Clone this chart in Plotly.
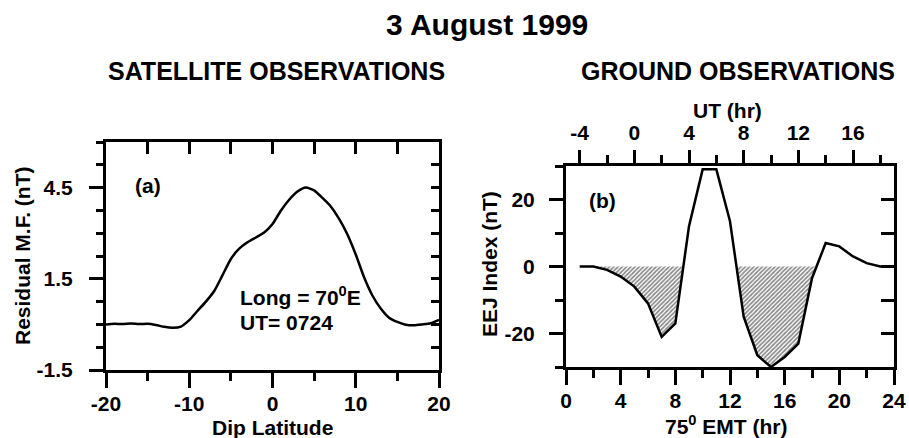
import plotly.graph_objects as go

# ---------------- data ----------------
# Panel (a): satellite residual magnetic field vs dip latitude
dip_lat = [-20, -19, -18, -17, -16, -15, -14, -13, -12, -11, -10, -9, -8, -7, -6,
           -5, -4, -3, -2, -1, 0, 1, 2, 3, 4, 5, 6, 7, 8, 9, 10, 11, 12, 13, 14,
           15, 16, 17, 18, 19, 20]
residual_mf = [0.00, 0.02, 0.01, 0.03, 0.01, 0.02, -0.02, -0.08, -0.11, -0.07, 0.14,
               0.45, 0.75, 1.10, 1.62, 2.15, 2.49, 2.70, 2.86, 3.02, 3.30, 3.74, 4.10,
               4.37, 4.50, 4.41, 4.16, 3.88, 3.47, 2.96, 2.30, 1.55, 0.95, 0.52, 0.22,
               0.08, -0.01, -0.03, 0.00, 0.04, 0.15]

# Panel (b): ground EEJ index vs 75E mean time
emt_hr = [1, 2, 3, 4, 5, 6, 7, 8, 9, 10, 11, 12, 13, 14, 15, 16, 17, 18, 19, 20,
          21, 22, 23, 24]
eej_index = [0, 0, -1, -3, -6, -11, -21, -17, 12, 29, 29, 13.5, -15, -26.5, -30,
             -27, -23, -3.5, 7, 6, 3, 1, 0, 0]

ut_offset_hr = -5  # UT = EMT - 5

# tick values and labels
a_x_ticks = [-20, -10, 0, 10, 20]
a_x_labels = ["-20", "-10", "0", "10", "20"]
a_y_ticks = [-1.5, 1.5, 4.5]
a_y_labels = ["-1.5", "1.5", "4.5"]
b_x_ticks = [0, 4, 8, 12, 16, 20, 24]
b_y_ticks = [-20, 0, 20]
b_y_labels = ["-20", "0", "20"]
b_ut_ticks = [-4, 0, 4, 8, 12, 16]
b_ut_labels = ["-4", "0", "4", "8", "12", "16"]

# ---------------- helpers ----------------
W, H = 909, 438
FONT = "Arial, Liberation Sans, sans-serif"
FS = 21


def px(x):
    return x / W


def py(y):
    return 1 - y / H


# negative part of the EEJ curve for the hatched fill
neg_x, neg_y = [], []
for i in range(len(emt_hr)):
    if i > 0:
        a, b = eej_index[i - 1], eej_index[i]
        if (a < 0 < b) or (b < 0 < a):
            t = a / (a - b)
            neg_x.append(emt_hr[i - 1] + t * (emt_hr[i] - emt_hr[i - 1]))
            neg_y.append(0)
    neg_x.append(emt_hr[i])
    neg_y.append(min(eej_index[i], 0))

fig = go.Figure()

fig.add_trace(go.Scatter(x=dip_lat, y=residual_mf, mode="lines",
                         line=dict(color="black", width=2.5, shape="spline", smoothing=0.6),
                         xaxis="x", yaxis="y", showlegend=False, hoverinfo="skip"))
fig.add_trace(go.Scatter(x=[None], y=[None], mode="lines", xaxis="x2", yaxis="y2",
                         showlegend=False, hoverinfo="skip"))

fig.add_trace(go.Scatter(x=neg_x, y=neg_y, mode="lines", line=dict(width=0),
                         fill="tozeroy",
                         fillpattern=dict(shape="/", fgcolor="#111", bgcolor="white",
                                          size=3, solidity=0.55),
                         xaxis="x3", yaxis="y3", showlegend=False, hoverinfo="skip"))
fig.add_trace(go.Scatter(x=emt_hr, y=eej_index, mode="lines",
                         line=dict(color="black", width=2.5),
                         xaxis="x3", yaxis="y3", showlegend=False, hoverinfo="skip"))
fig.add_trace(go.Scatter(x=[None], y=[None], mode="lines", xaxis="x4", yaxis="y4",
                         showlegend=False, hoverinfo="skip"))

tickfont = dict(family=FONT, size=FS, color="black", weight="bold")
common = dict(showgrid=False, zeroline=False, showline=True, linecolor="black",
              linewidth=3, tickcolor="black", tickwidth=2.5, automargin=False,
              tickfont=tickfont)

ax_dom = [px(106), px(439)]
ay_dom = [py(370), py(142)]
bx_dom = [px(566), px(894)]
by_dom = [py(367), py(166)]

fig.update_layout(
    width=W, height=H, margin=dict(l=0, r=0, t=0, b=0),
    paper_bgcolor="white", plot_bgcolor="white",
    xaxis=dict(domain=ax_dom, anchor="y", range=[-20, 20], tickmode="array",
               tickvals=a_x_ticks, ticktext=a_x_labels, ticks="outside", ticklen=15,
               minor=dict(dtick=5, tick0=-20, ticks="outside", ticklen=8,
                          tickwidth=2.5, tickcolor="black"),
               ticklabelstandoff=-2, **common),
    yaxis=dict(domain=ay_dom, anchor="x", range=[-1.5, 6], tickmode="array",
               tickvals=a_y_ticks, ticktext=a_y_labels, ticks="outside", ticklen=14,
               minor=dict(dtick=0.75, tick0=-1.5, ticks="outside", ticklen=7,
                          tickwidth=2.5, tickcolor="black"),
               ticklabelstandoff=12, **common),
    xaxis2=dict(overlaying="x", side="top", anchor="y", range=[-20, 20],
                tick0=-20, dtick=5, ticks="inside", ticklen=12,
                showticklabels=False, **common),
    yaxis2=dict(overlaying="y", side="right", anchor="x", range=[-1.5, 6],
                tick0=-1.5, dtick=0.75, ticks="inside", ticklen=8,
                showticklabels=False, **common),
    xaxis3=dict(domain=bx_dom, anchor="y3", range=[0, 24], tickmode="array",
                tickvals=b_x_ticks, ticks="outside", ticklen=15,
                minor=dict(dtick=2, tick0=0, ticks="outside", ticklen=8,
                           tickwidth=2.5, tickcolor="black"),
                ticklabelstandoff=-2, **common),
    yaxis3=dict(domain=by_dom, anchor="x3", range=[-30, 30], tickmode="array",
                tickvals=b_y_ticks, ticktext=b_y_labels, ticks="outside", ticklen=14,
                minor=dict(dtick=10, tick0=-30, ticks="outside", ticklen=8,
                           tickwidth=2.5, tickcolor="black"),
                ticklabelstandoff=10, **common),
    xaxis4=dict(overlaying="x3", side="top", anchor="y3",
                range=[0 + ut_offset_hr, 24 + ut_offset_hr], tickmode="array",
                tickvals=b_ut_ticks, ticktext=b_ut_labels, ticks="outside", ticklen=13,
                minor=dict(dtick=2, tick0=-4, ticks="outside", ticklen=8,
                           tickwidth=2.5, tickcolor="black"),
                ticklabelstandoff=2, **common),
    yaxis4=dict(overlaying="y3", side="right", anchor="x3", range=[-30, 30],
                tick0=-30, dtick=10, ticks="inside", ticklen=13,
                showticklabels=False, **common),
)


def label(text, x, y, size=FS, angle=0, xanchor="center"):
    fig.add_annotation(text=text, x=px(x), y=py(y), xref="paper", yref="paper",
                       showarrow=False, textangle=angle, xanchor=xanchor,
                       yanchor="middle",
                       font=dict(family=FONT, size=size, color="black", weight="bold"))


label("3 August 1999", 487, 24, size=30)
label("SATELLITE OBSERVATIONS", 276, 71, size=25)
label("GROUND OBSERVATIONS", 738, 71, size=25)

label("(a)", 148, 185)
label("Long = 70<sup>0</sup>E", 238, 296, xanchor="left")
label("UT= 0724", 238, 322, xanchor="left")
label("Dip Latitude", 272, 427)
label("Residual M.F. (nT)", 22, 256, angle=-90)

label("(b)", 602, 200)
label("UT (hr)", 727, 110)
label("75<sup>0</sup> EMT (hr)", 726, 425)
label("EEJ Index (nT)", 489, 264, angle=-90)

fig.write_html("out.html")
